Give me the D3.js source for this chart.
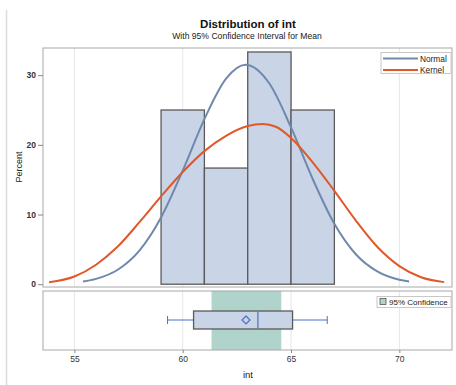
<!DOCTYPE html>
<html>
<head>
<meta charset="utf-8">
<script src="https://cdn.jsdelivr.net/npm/d3@7"></script>
<style>
  html, body { margin: 0; padding: 0; background: #fff; }
  svg { display: block; font-family: "Liberation Sans", Arial, sans-serif; }
</style>
</head>
<body>
<svg id="chart" width="456" height="385"></svg>
<script>
// ---- data ----
const binEdges = [59, 61, 63, 65, 67];
const binPercent = [25, 16.67, 33.33, 25];

const normalX = [55.4, 56, 57, 58, 59, 60, 61, 62, 62.9, 64, 65, 66, 67, 68, 69, 70, 70.45];
const normalY = [0.39, 0.77, 2.08, 4.83, 9.58, 16.3, 23.7, 29.5, 31.5, 28.8, 22.5, 15.1, 8.67, 4.26, 1.8, 0.65, 0.4];

const kernelX = [53.83, 55, 56, 57, 58, 59, 60, 61, 62, 63, 63.7, 64.3, 65, 66, 67, 68, 69, 70, 71, 72.07];
const kernelY = [0.29, 1.1, 2.8, 5.4, 8.9, 12.6, 16.1, 19.1, 21.3, 22.7, 23.0, 22.6, 21.0, 17.5, 13.4, 9.1, 5.3, 2.6, 1.0, 0.3];

const boxStats = { low: 59.3, q1: 60.5, median: 63.47, q3: 65.07, high: 66.67, mean: 62.92 };
const ciMean = [61.33, 64.55];

const xTicks = [55, 60, 65, 70];
const yTicks = [0, 10, 20, 30];
const legendLabels = ["Normal", "Kernel"];
const ciLabel = "95% Confidence";

// ---- layout ----
const svg = d3.select("#chart");
const L = 43, R = 452;
const topP = { t: 48, b: 287 };
const botP = { t: 291, b: 350 };

const cBar = "#c9d4e6", cStroke = "#5a5a5a", cNormal = "#6f89ad", cKernel = "#e0582a",
      cCI = "#b0d3cb", cBlue = "#4a6fc4", cFrame = "#a8a8a8", cGrid = "#e6e6e6";

const x = d3.scaleLinear().domain([53.55, 72.43]).range([L, R]);
const y = d3.scaleLinear().domain([-0.4, 33.9]).range([topP.b, topP.t]);

// page left rule
svg.append("line").attr("x1", 6.5).attr("x2", 6.5).attr("y1", 10).attr("y2", 385)
  .attr("stroke", "#dcdcdc").attr("stroke-width", 1.5);

// titles
svg.append("text").attr("x", 248).attr("y", 28).attr("text-anchor", "middle")
  .attr("font-weight", "bold").attr("font-size", 11.5).attr("fill", "#111").text("Distribution of int");
svg.append("text").attr("x", 247).attr("y", 38.5).attr("text-anchor", "middle")
  .attr("font-size", 8.6).attr("fill", "#222").text("With 95% Confidence Interval for Mean");

// grid lines
[topP, botP].forEach(p => {
  svg.append("g").selectAll("line").data(xTicks).join("line")
    .attr("x1", d => x(d)).attr("x2", d => x(d)).attr("y1", p.t).attr("y2", p.b)
    .attr("stroke", cGrid).attr("stroke-width", 1);
});

// top panel clip
svg.append("clipPath").attr("id", "clipTop").append("rect")
  .attr("x", L).attr("y", topP.t).attr("width", R - L).attr("height", topP.b - topP.t);

const gTop = svg.append("g").attr("clip-path", "url(#clipTop)");

// histogram bars
const bars = binPercent.map((v, i) => ({ x0: binEdges[i], x1: binEdges[i + 1], v }));
gTop.selectAll("rect.bar").data(bars).join("rect").attr("class", "bar")
  .attr("x", d => x(d.x0)).attr("width", d => x(d.x1) - x(d.x0))
  .attr("y", d => y(d.v)).attr("height", d => y(0) - y(d.v))
  .attr("fill", cBar).attr("stroke", cStroke).attr("stroke-width", 1.3);

// curves
const line = d3.line().x(d => x(d[0])).y(d => y(d[1])).curve(d3.curveMonotoneX);
gTop.append("path").datum(normalX.map((d, i) => [d, normalY[i]]))
  .attr("d", line).attr("fill", "none").attr("stroke", cNormal).attr("stroke-width", 2);
gTop.append("path").datum(kernelX.map((d, i) => [d, kernelY[i]]))
  .attr("d", line).attr("fill", "none").attr("stroke", cKernel).attr("stroke-width", 2);

// top frame
svg.append("rect").attr("x", L).attr("y", topP.t).attr("width", R - L).attr("height", topP.b - topP.t)
  .attr("fill", "none").attr("stroke", cFrame).attr("stroke-width", 1);

// y axis
const yAxis = d3.axisLeft(y).tickValues(yTicks).tickSize(5).tickPadding(2).tickFormat(d3.format("d"));
const gy = svg.append("g").attr("transform", `translate(${L},0)`).call(yAxis);
gy.select(".domain").remove();
gy.selectAll(".tick line").attr("stroke", "#888");
gy.selectAll(".tick text").attr("font-size", 8.5).attr("font-weight", "bold").attr("fill", "#333")
  .attr("font-family", "Liberation Sans, Arial, sans-serif");
svg.append("text").attr("transform", "translate(22,167) rotate(-90)").attr("text-anchor", "middle")
  .attr("font-size", 9).attr("fill", "#222").text("Percent");

// legend top
const lg = svg.append("g");
lg.append("rect").attr("x", 381).attr("y", 52.5).attr("width", 70).attr("height", 21)
  .attr("fill", "#fff").attr("stroke", "#c8c8c8");
[cNormal, cKernel].forEach((c, i) => {
  const yy = 58.5 + i * 11.5;
  lg.append("line").attr("x1", 383).attr("x2", 418).attr("y1", yy).attr("y2", yy)
    .attr("stroke", c).attr("stroke-width", 2);
  lg.append("text").attr("x", 420).attr("y", yy + 3).attr("font-size", 8.3).attr("fill", "#222")
    .text(legendLabels[i]);
});

// bottom panel
svg.append("rect").attr("x", x(ciMean[0])).attr("y", botP.t).attr("width", x(ciMean[1]) - x(ciMean[0]))
  .attr("height", botP.b - botP.t).attr("fill", cCI);

const cy = 320;
const bx = svg.append("g");
bx.append("line").attr("x1", x(boxStats.low)).attr("x2", x(boxStats.q1)).attr("y1", cy).attr("y2", cy)
  .attr("stroke", cBlue).attr("stroke-width", 1);
bx.append("line").attr("x1", x(boxStats.q3)).attr("x2", x(boxStats.high)).attr("y1", cy).attr("y2", cy)
  .attr("stroke", cBlue).attr("stroke-width", 1);
[boxStats.low, boxStats.high].forEach(v => {
  bx.append("line").attr("x1", x(v)).attr("x2", x(v)).attr("y1", cy - 4).attr("y2", cy + 4)
    .attr("stroke", cBlue).attr("stroke-width", 1);
});
bx.append("rect").attr("x", x(boxStats.q1)).attr("y", 311).attr("width", x(boxStats.q3) - x(boxStats.q1))
  .attr("height", 18).attr("fill", cBar).attr("stroke", cStroke).attr("stroke-width", 1.3);
bx.append("line").attr("x1", x(boxStats.median)).attr("x2", x(boxStats.median)).attr("y1", 311.7).attr("y2", 328.3)
  .attr("stroke", cBlue).attr("stroke-width", 1.2);
bx.append("path").attr("d", d3.symbol(d3.symbolDiamond2, 40)())
  .attr("transform", `translate(${x(boxStats.mean)},${cy})`)
  .attr("fill", "none").attr("stroke", cBlue).attr("stroke-width", 1.2);

svg.append("rect").attr("x", L).attr("y", botP.t).attr("width", R - L).attr("height", botP.b - botP.t)
  .attr("fill", "none").attr("stroke", cFrame).attr("stroke-width", 1);

// CI legend
const lg2 = svg.append("g");
lg2.append("rect").attr("x", 377).attr("y", 296.5).attr("width", 74).attr("height", 11)
  .attr("fill", "#fff").attr("stroke", "#c8c8c8");
lg2.append("rect").attr("x", 380).attr("y", 298.5).attr("width", 6).attr("height", 6)
  .attr("fill", cCI).attr("stroke", "#555").attr("stroke-width", 0.8);
lg2.append("text").attr("x", 389).attr("y", 305).attr("font-size", 8).attr("fill", "#222").text(ciLabel);

// x axis
const xAxis = d3.axisBottom(x).tickValues(xTicks).tickSize(3).tickPadding(3).tickFormat(d3.format("d"));
const gx = svg.append("g").attr("transform", `translate(0,${botP.b})`).call(xAxis);
gx.select(".domain").remove();
gx.selectAll(".tick line").attr("stroke", "#888");
gx.selectAll(".tick text").attr("font-size", 8.5).attr("fill", "#333")
  .attr("font-family", "Liberation Sans, Arial, sans-serif");
svg.append("text").attr("x", 248).attr("y", 378).attr("text-anchor", "middle")
  .attr("font-size", 9.5).attr("fill", "#222").text("int");
</script>
</body>
</html>
